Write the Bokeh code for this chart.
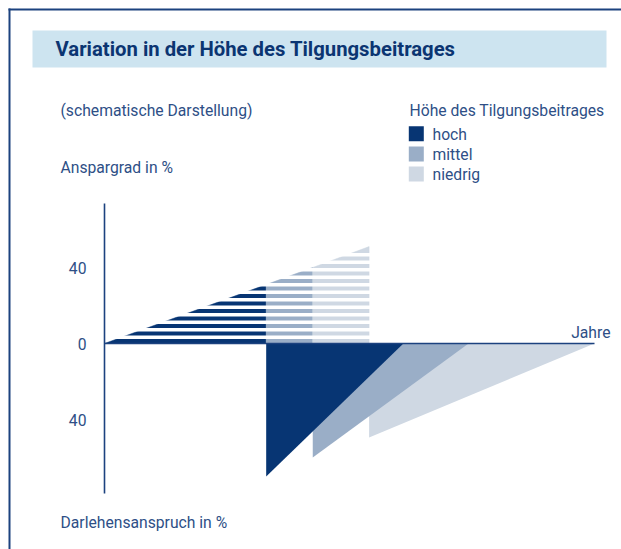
from bokeh.plotting import figure
from bokeh.models import Range1d
from bokeh.core.properties import value
from bokeh.embed import file_html
from bokeh.resources import INLINE

# ---------------- data ----------------
series = ["hoch", "mittel", "niedrig"]
colors = ["#073573", "#9aaec7", "#cfd8e3"]

# upper wedge (Anspargrad in %): segment end (x, Jahre) and height at that end
anspar_end = [33, 42.5, 54]
anspar_top = [31, 40, 51]

# lower triangles (Darlehensanspruch in %)
darlehen_start = [33, 42.5, 54]
darlehen_depth = [70, 60, 49.5]
darlehen_end = [61, 74.3, 100]

y_ticks = [40, 0, -40]
y_tick_labels = ["40", "0", "40"]

title = "Variation in der Höhe des Tilgungsbeitrages"
subtitle = "(schematische Darstellung)"
legend_title = "Höhe des Tilgungsbeitrages"
y_up_label = "Anspargrad in %"
y_down_label = "Darlehensanspruch in %"
x_label = "Jahre"

# ---------------- layout helpers (page pixels -> data) ----------------
X0P, XS = 104.0, 4.9
Y0P, YS = 343.0, 1.9


def px(xp):
    return (xp - X0P) / XS


def py(yp):
    return (Y0P - yp) / YS


W, H = 621, 549
p = figure(width=W, height=H, output_backend="svg", toolbar_location=None,
           x_range=Range1d(px(0), px(W)), y_range=Range1d(py(H), py(0)),
           min_border=0, tools="")
p.axis.visible = False
p.grid.visible = False
p.outline_line_color = None
p.background_fill_color = "white"
p.border_fill_color = "white"

TXT = "#2e4f86"
TITLE_C = "#0b3572"
LINE_C = "#1c427f"
FONT = "Roboto"
FS = "15.7px"

# frame lines (left, top)
p.segment(x0=[px(9), px(8)], y0=[py(8), py(9)], x1=[px(9), px(W)], y1=[py(H), py(9)],
          line_color=LINE_C, line_width=2)

# title band
p.quad(left=[px(32)], right=[px(606)], top=[py(30)], bottom=[py(67)],
       fill_color="#cde4f0", line_color=None)
p.text(x=[px(55)], y=[py(48)], text=[title], text_font=value(FONT),
       text_font_style="bold", text_font_size="20.3px", text_color=TITLE_C,
       text_baseline="middle")

# texts
p.text(x=[px(60), px(409), px(60), px(60)], y=[py(110), py(110), py(167), py(522)],
       text=[subtitle, legend_title, y_up_label, y_down_label], text_font=value(FONT),
       text_font_size=FS, text_color=TXT, text_baseline="middle")

# legend
leg_y = [133.2, 153.5, 173.5]
p.scatter(x=[px(415.8)] * 3, y=[py(v) for v in leg_y], marker="square", size=15,
          fill_color=colors, line_color=None)
p.text(x=[px(432)] * 3, y=[py(v + 0.8) for v in leg_y], text=series, text_font=value(FONT),
       text_font_size=FS, text_color=TXT, text_baseline="middle")

# lower triangles (draw light first, dark on top)
for i in [2, 1, 0]:
    xs = [darlehen_start[i], darlehen_end[i], darlehen_start[i]]
    ys = [0, 0, -darlehen_depth[i]]
    p.patch(xs, ys, fill_color=colors[i], line_color=None)

# upper wedge segments
prev_x, prev_y = 0, 0
for i in range(3):
    xs = [prev_x, anspar_end[i], anspar_end[i], prev_x]
    ys = [0, 0, anspar_top[i], prev_y]
    p.patch(xs, ys, fill_color=colors[i], line_color=colors[i], line_width=0.5)
    prev_x, prev_y = anspar_end[i], anspar_top[i]

# white stripes (schematic hatching of the wedge)
period = 7.5 / YS
gap_bottom = [4.5 / YS + k * period for k in range(12)]
gap_top = [8.0 / YS + k * period for k in range(12)]
p.quad(left=[-0.5] * 12, right=[anspar_end[-1] + 0.5] * 12, bottom=gap_bottom, top=gap_top,
       fill_color="white", line_color=None)

# axes
p.segment(x0=[0, 0], y0=[-79, 0], x1=[0, 100], y1=[73.7, 0], line_color=LINE_C, line_width=1.6)

# tick labels
p.text(x=[px(86)] * 3, y=y_ticks, text=y_tick_labels, text_font=value(FONT),
       text_font_size=FS, text_color=TXT, text_align="right", text_baseline="middle")
p.text(x=[px(610)], y=[py(332)], text=[x_label], text_font=value(FONT),
       text_font_size=FS, text_color=TXT, text_align="right", text_baseline="middle")

open("out.html", "w").write(file_html(p, INLINE))
